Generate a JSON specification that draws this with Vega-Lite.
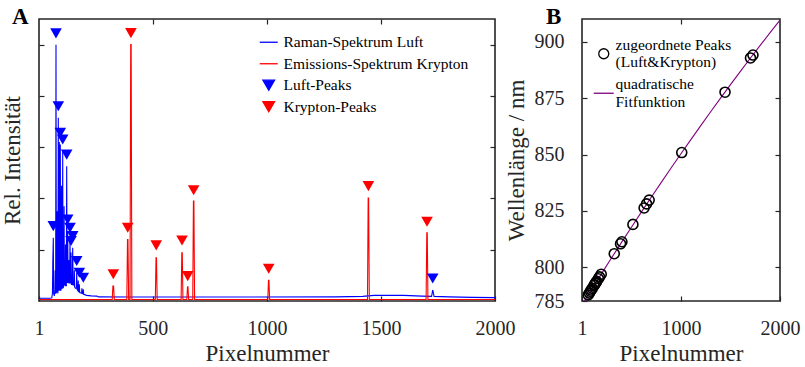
{
  "$schema": "https://vega.github.io/schema/vega-lite/v6.json",
  "background": "white",
  "padding": {"left": 0, "top": 5, "right": 5, "bottom": 0},
  "bounds": "flush",
  "spacing": 87,
  "resolve": {
    "scale": {"x": "independent", "y": "independent", "color": "independent", "shape": "independent"},
    "legend": {"color": "independent", "shape": "independent"}
  },
  "config": {
    "font": "Liberation Serif",
    "view": {"stroke": "#262626", "strokeWidth": 1.6},
    "axis": {
      "domain": false, "grid": false, "ticks": true, "tickSize": -5, "tickWidth": 1.2, "tickColor": "#262626",
      "labelFont": "Liberation Serif", "labelFontSize": 20, "labelColor": "#262626", "labelFlush": false, "labelOverlap": false,
      "titleFont": "Liberation Serif", "titleFontSize": 23, "titleFontWeight": "normal", "titleColor": "#262626"
    },
    "legend": {
      "labelFont": "Liberation Serif", "labelFontSize": 15.5, "labelColor": "black", "labelLimit": 0, "padding": 0, "offset": 0, "symbolStrokeWidth": 1.3
    }
  },
  "datasets": {
    "specA": [
      {"series": "Raman-Spektrum Luft", "x": 1, "y": 0.0105},
      {"series": "Raman-Spektrum Luft", "x": 50, "y": 0.0105},
      {"series": "Raman-Spektrum Luft", "x": 57, "y": 0.012},
      {"series": "Raman-Spektrum Luft", "x": 60, "y": 0.03},
      {"series": "Raman-Spektrum Luft", "x": 61.5, "y": 0.15},
      {"series": "Raman-Spektrum Luft", "x": 63.7, "y": 0.247},
      {"series": "Raman-Spektrum Luft", "x": 65.3, "y": 0.03},
      {"series": "Raman-Spektrum Luft", "x": 68, "y": 0.02},
      {"series": "Raman-Spektrum Luft", "x": 71, "y": 0.04},
      {"series": "Raman-Spektrum Luft", "x": 72, "y": 0.12},
      {"series": "Raman-Spektrum Luft", "x": 73, "y": 0.03},
      {"series": "Raman-Spektrum Luft", "x": 74, "y": 0.03},
      {"series": "Raman-Spektrum Luft", "x": 75.5, "y": 1.0},
      {"series": "Raman-Spektrum Luft", "x": 77, "y": 0.03},
      {"series": "Raman-Spektrum Luft", "x": 79, "y": 0.06},
      {"series": "Raman-Spektrum Luft", "x": 80, "y": 0.35},
      {"series": "Raman-Spektrum Luft", "x": 81, "y": 0.04},
      {"series": "Raman-Spektrum Luft", "x": 84, "y": 0.03},
      {"series": "Raman-Spektrum Luft", "x": 85.6, "y": 0.715},
      {"series": "Raman-Spektrum Luft", "x": 87, "y": 0.04},
      {"series": "Raman-Spektrum Luft", "x": 89, "y": 0.05},
      {"series": "Raman-Spektrum Luft", "x": 90, "y": 0.62},
      {"series": "Raman-Spektrum Luft", "x": 91, "y": 0.05},
      {"series": "Raman-Spektrum Luft", "x": 93, "y": 0.04},
      {"series": "Raman-Spektrum Luft", "x": 94.4, "y": 0.61},
      {"series": "Raman-Spektrum Luft", "x": 96, "y": 0.04},
      {"series": "Raman-Spektrum Luft", "x": 99, "y": 0.05},
      {"series": "Raman-Spektrum Luft", "x": 100, "y": 0.45},
      {"series": "Raman-Spektrum Luft", "x": 101, "y": 0.05},
      {"series": "Raman-Spektrum Luft", "x": 103.5, "y": 0.05},
      {"series": "Raman-Spektrum Luft", "x": 104.9, "y": 0.585},
      {"series": "Raman-Spektrum Luft", "x": 106.5, "y": 0.05},
      {"series": "Raman-Spektrum Luft", "x": 110, "y": 0.06},
      {"series": "Raman-Spektrum Luft", "x": 111, "y": 0.37},
      {"series": "Raman-Spektrum Luft", "x": 112, "y": 0.07},
      {"series": "Raman-Spektrum Luft", "x": 116, "y": 0.06},
      {"series": "Raman-Spektrum Luft", "x": 117, "y": 0.22},
      {"series": "Raman-Spektrum Luft", "x": 118, "y": 0.06},
      {"series": "Raman-Spektrum Luft", "x": 121, "y": 0.06},
      {"series": "Raman-Spektrum Luft", "x": 122.4, "y": 0.526},
      {"series": "Raman-Spektrum Luft", "x": 124, "y": 0.07},
      {"series": "Raman-Spektrum Luft", "x": 126.8, "y": 0.273},
      {"series": "Raman-Spektrum Luft", "x": 128.5, "y": 0.07},
      {"series": "Raman-Spektrum Luft", "x": 131, "y": 0.08},
      {"series": "Raman-Spektrum Luft", "x": 132, "y": 0.16},
      {"series": "Raman-Spektrum Luft", "x": 133, "y": 0.07},
      {"series": "Raman-Spektrum Luft", "x": 135.5, "y": 0.07},
      {"series": "Raman-Spektrum Luft", "x": 136.9, "y": 0.241},
      {"series": "Raman-Spektrum Luft", "x": 138.5, "y": 0.07},
      {"series": "Raman-Spektrum Luft", "x": 140, "y": 0.07},
      {"series": "Raman-Spektrum Luft", "x": 141.3, "y": 0.189},
      {"series": "Raman-Spektrum Luft", "x": 143, "y": 0.065},
      {"series": "Raman-Spektrum Luft", "x": 147, "y": 0.065},
      {"series": "Raman-Spektrum Luft", "x": 148.7, "y": 0.208},
      {"series": "Raman-Spektrum Luft", "x": 150.5, "y": 0.06},
      {"series": "Raman-Spektrum Luft", "x": 155, "y": 0.07},
      {"series": "Raman-Spektrum Luft", "x": 156, "y": 0.12},
      {"series": "Raman-Spektrum Luft", "x": 157, "y": 0.055},
      {"series": "Raman-Spektrum Luft", "x": 160, "y": 0.05},
      {"series": "Raman-Spektrum Luft", "x": 164.5, "y": 0.05},
      {"series": "Raman-Spektrum Luft", "x": 166.3, "y": 0.111},
      {"series": "Raman-Spektrum Luft", "x": 168, "y": 0.045},
      {"series": "Raman-Spektrum Luft", "x": 172, "y": 0.04},
      {"series": "Raman-Spektrum Luft", "x": 173, "y": 0.08},
      {"series": "Raman-Spektrum Luft", "x": 174, "y": 0.04},
      {"series": "Raman-Spektrum Luft", "x": 176, "y": 0.035},
      {"series": "Raman-Spektrum Luft", "x": 177.7, "y": 0.065},
      {"series": "Raman-Spektrum Luft", "x": 179.5, "y": 0.033},
      {"series": "Raman-Spektrum Luft", "x": 188, "y": 0.03},
      {"series": "Raman-Spektrum Luft", "x": 189, "y": 0.05},
      {"series": "Raman-Spektrum Luft", "x": 190, "y": 0.03},
      {"series": "Raman-Spektrum Luft", "x": 193.5, "y": 0.028},
      {"series": "Raman-Spektrum Luft", "x": 195.2, "y": 0.046},
      {"series": "Raman-Spektrum Luft", "x": 197, "y": 0.026},
      {"series": "Raman-Spektrum Luft", "x": 210, "y": 0.022},
      {"series": "Raman-Spektrum Luft", "x": 230, "y": 0.02},
      {"series": "Raman-Spektrum Luft", "x": 255, "y": 0.019},
      {"series": "Raman-Spektrum Luft", "x": 262, "y": 0.016},
      {"series": "Raman-Spektrum Luft", "x": 400, "y": 0.0155},
      {"series": "Raman-Spektrum Luft", "x": 800, "y": 0.0155},
      {"series": "Raman-Spektrum Luft", "x": 1300, "y": 0.016},
      {"series": "Raman-Spektrum Luft", "x": 1420, "y": 0.018},
      {"series": "Raman-Spektrum Luft", "x": 1470, "y": 0.022},
      {"series": "Raman-Spektrum Luft", "x": 1600, "y": 0.022},
      {"series": "Raman-Spektrum Luft", "x": 1680, "y": 0.019},
      {"series": "Raman-Spektrum Luft", "x": 1722, "y": 0.018},
      {"series": "Raman-Spektrum Luft", "x": 1727, "y": 0.043},
      {"series": "Raman-Spektrum Luft", "x": 1733, "y": 0.018},
      {"series": "Raman-Spektrum Luft", "x": 1800, "y": 0.016},
      {"series": "Raman-Spektrum Luft", "x": 1900, "y": 0.014},
      {"series": "Raman-Spektrum Luft", "x": 2000, "y": 0.013},
      {"series": "Emissions-Spektrum Krypton", "x": 1, "y": 0.006},
      {"series": "Emissions-Spektrum Krypton", "x": 322, "y": 0.006},
      {"series": "Emissions-Spektrum Krypton", "x": 325, "y": 0.058},
      {"series": "Emissions-Spektrum Krypton", "x": 328, "y": 0.058},
      {"series": "Emissions-Spektrum Krypton", "x": 331, "y": 0.006},
      {"series": "Emissions-Spektrum Krypton", "x": 386, "y": 0.006},
      {"series": "Emissions-Spektrum Krypton", "x": 389, "y": 0.24},
      {"series": "Emissions-Spektrum Krypton", "x": 391, "y": 0.24},
      {"series": "Emissions-Spektrum Krypton", "x": 394, "y": 0.006},
      {"series": "Emissions-Spektrum Krypton", "x": 400, "y": 0.006},
      {"series": "Emissions-Spektrum Krypton", "x": 403, "y": 1.0},
      {"series": "Emissions-Spektrum Krypton", "x": 405, "y": 1.0},
      {"series": "Emissions-Spektrum Krypton", "x": 408, "y": 0.006},
      {"series": "Emissions-Spektrum Krypton", "x": 511, "y": 0.006},
      {"series": "Emissions-Spektrum Krypton", "x": 514, "y": 0.169},
      {"series": "Emissions-Spektrum Krypton", "x": 516, "y": 0.169},
      {"series": "Emissions-Spektrum Krypton", "x": 519, "y": 0.006},
      {"series": "Emissions-Spektrum Krypton", "x": 624, "y": 0.006},
      {"series": "Emissions-Spektrum Krypton", "x": 627, "y": 0.188},
      {"series": "Emissions-Spektrum Krypton", "x": 629, "y": 0.188},
      {"series": "Emissions-Spektrum Krypton", "x": 632, "y": 0.006},
      {"series": "Emissions-Spektrum Krypton", "x": 649, "y": 0.006},
      {"series": "Emissions-Spektrum Krypton", "x": 652, "y": 0.055},
      {"series": "Emissions-Spektrum Krypton", "x": 654, "y": 0.055},
      {"series": "Emissions-Spektrum Krypton", "x": 657, "y": 0.006},
      {"series": "Emissions-Spektrum Krypton", "x": 675, "y": 0.006},
      {"series": "Emissions-Spektrum Krypton", "x": 678, "y": 0.39},
      {"series": "Emissions-Spektrum Krypton", "x": 680, "y": 0.39},
      {"series": "Emissions-Spektrum Krypton", "x": 683, "y": 0.006},
      {"series": "Emissions-Spektrum Krypton", "x": 1004, "y": 0.006},
      {"series": "Emissions-Spektrum Krypton", "x": 1007, "y": 0.081},
      {"series": "Emissions-Spektrum Krypton", "x": 1009, "y": 0.081},
      {"series": "Emissions-Spektrum Krypton", "x": 1012, "y": 0.006},
      {"series": "Emissions-Spektrum Krypton", "x": 1441, "y": 0.006},
      {"series": "Emissions-Spektrum Krypton", "x": 1444, "y": 0.402},
      {"series": "Emissions-Spektrum Krypton", "x": 1446, "y": 0.402},
      {"series": "Emissions-Spektrum Krypton", "x": 1449, "y": 0.006},
      {"series": "Emissions-Spektrum Krypton", "x": 1698, "y": 0.006},
      {"series": "Emissions-Spektrum Krypton", "x": 1701, "y": 0.266},
      {"series": "Emissions-Spektrum Krypton", "x": 1703, "y": 0.266},
      {"series": "Emissions-Spektrum Krypton", "x": 1706, "y": 0.006},
      {"series": "Emissions-Spektrum Krypton", "x": 2000, "y": 0.006}
    ],
    "peaksA": [
      {"series": "Luft-Peaks", "x": 63.7, "y": 0.292},
      {"series": "Luft-Peaks", "x": 75.5, "y": 1.044},
      {"series": "Luft-Peaks", "x": 85.6, "y": 0.76},
      {"series": "Luft-Peaks", "x": 94.4, "y": 0.656},
      {"series": "Luft-Peaks", "x": 104.9, "y": 0.63},
      {"series": "Luft-Peaks", "x": 122.4, "y": 0.571},
      {"series": "Luft-Peaks", "x": 126.8, "y": 0.318},
      {"series": "Luft-Peaks", "x": 136.9, "y": 0.286},
      {"series": "Luft-Peaks", "x": 141.3, "y": 0.234},
      {"series": "Luft-Peaks", "x": 148.7, "y": 0.253},
      {"series": "Luft-Peaks", "x": 166.3, "y": 0.156},
      {"series": "Luft-Peaks", "x": 177.7, "y": 0.11},
      {"series": "Luft-Peaks", "x": 195.2, "y": 0.091},
      {"series": "Luft-Peaks", "x": 1727, "y": 0.088},
      {"series": "Krypton-Peaks", "x": 326.7, "y": 0.104},
      {"series": "Krypton-Peaks", "x": 390, "y": 0.286},
      {"series": "Krypton-Peaks", "x": 404, "y": 1.045},
      {"series": "Krypton-Peaks", "x": 515, "y": 0.217},
      {"series": "Krypton-Peaks", "x": 628, "y": 0.236},
      {"series": "Krypton-Peaks", "x": 653, "y": 0.097},
      {"series": "Krypton-Peaks", "x": 679, "y": 0.432},
      {"series": "Krypton-Peaks", "x": 1008, "y": 0.126},
      {"series": "Krypton-Peaks", "x": 1445, "y": 0.448},
      {"series": "Krypton-Peaks", "x": 1702, "y": 0.309}
    ],
    "ptsB": [
      {"series": "zugeordnete Peaks|(Luft&Krypton)", "x": 63.7, "y": 787.7},
      {"series": "zugeordnete Peaks|(Luft&Krypton)", "x": 75.5, "y": 788.5},
      {"series": "zugeordnete Peaks|(Luft&Krypton)", "x": 85.6, "y": 789.3},
      {"series": "zugeordnete Peaks|(Luft&Krypton)", "x": 94.4, "y": 789.9},
      {"series": "zugeordnete Peaks|(Luft&Krypton)", "x": 104.9, "y": 790.6},
      {"series": "zugeordnete Peaks|(Luft&Krypton)", "x": 122.4, "y": 791.9},
      {"series": "zugeordnete Peaks|(Luft&Krypton)", "x": 126.8, "y": 792.2},
      {"series": "zugeordnete Peaks|(Luft&Krypton)", "x": 136.9, "y": 792.9},
      {"series": "zugeordnete Peaks|(Luft&Krypton)", "x": 141.3, "y": 793.2},
      {"series": "zugeordnete Peaks|(Luft&Krypton)", "x": 148.7, "y": 793.7},
      {"series": "zugeordnete Peaks|(Luft&Krypton)", "x": 166.3, "y": 794.9},
      {"series": "zugeordnete Peaks|(Luft&Krypton)", "x": 177.7, "y": 795.7},
      {"series": "zugeordnete Peaks|(Luft&Krypton)", "x": 195.2, "y": 796.9},
      {"series": "zugeordnete Peaks|(Luft&Krypton)", "x": 1727, "y": 894.2},
      {"series": "zugeordnete Peaks|(Luft&Krypton)", "x": 326.7, "y": 806.0},
      {"series": "zugeordnete Peaks|(Luft&Krypton)", "x": 390, "y": 810.4},
      {"series": "zugeordnete Peaks|(Luft&Krypton)", "x": 404, "y": 811.3},
      {"series": "zugeordnete Peaks|(Luft&Krypton)", "x": 515, "y": 819.0},
      {"series": "zugeordnete Peaks|(Luft&Krypton)", "x": 628, "y": 826.3},
      {"series": "zugeordnete Peaks|(Luft&Krypton)", "x": 653, "y": 828.1},
      {"series": "zugeordnete Peaks|(Luft&Krypton)", "x": 679, "y": 829.8},
      {"series": "zugeordnete Peaks|(Luft&Krypton)", "x": 1008, "y": 850.9},
      {"series": "zugeordnete Peaks|(Luft&Krypton)", "x": 1445, "y": 877.7},
      {"series": "zugeordnete Peaks|(Luft&Krypton)", "x": 1702, "y": 892.9}
    ],
    "fitB": [
      {"series": "quadratische|Fitfunktion", "x": 1, "y": 783.28},
      {"series": "quadratische|Fitfunktion", "x": 100, "y": 790.28},
      {"series": "quadratische|Fitfunktion", "x": 200, "y": 797.27},
      {"series": "quadratische|Fitfunktion", "x": 300, "y": 804.18},
      {"series": "quadratische|Fitfunktion", "x": 400, "y": 811.02},
      {"series": "quadratische|Fitfunktion", "x": 500, "y": 817.77},
      {"series": "quadratische|Fitfunktion", "x": 600, "y": 824.45},
      {"series": "quadratische|Fitfunktion", "x": 700, "y": 831.05},
      {"series": "quadratische|Fitfunktion", "x": 800, "y": 837.57},
      {"series": "quadratische|Fitfunktion", "x": 900, "y": 844.02},
      {"series": "quadratische|Fitfunktion", "x": 1000, "y": 850.38},
      {"series": "quadratische|Fitfunktion", "x": 1100, "y": 856.67},
      {"series": "quadratische|Fitfunktion", "x": 1200, "y": 862.88},
      {"series": "quadratische|Fitfunktion", "x": 1300, "y": 869.01},
      {"series": "quadratische|Fitfunktion", "x": 1400, "y": 875.07},
      {"series": "quadratische|Fitfunktion", "x": 1500, "y": 881.04},
      {"series": "quadratische|Fitfunktion", "x": 1600, "y": 886.94},
      {"series": "quadratische|Fitfunktion", "x": 1700, "y": 892.76},
      {"series": "quadratische|Fitfunktion", "x": 1800, "y": 898.5},
      {"series": "quadratische|Fitfunktion", "x": 1900, "y": 904.16},
      {"series": "quadratische|Fitfunktion", "x": 2000, "y": 909.75}
    ]
  },
  "hconcat": [
    {
      "width": 456,
      "height": 282,
      "title": {"text": "A", "anchor": "start", "frame": "group", "font": "Liberation Serif", "fontSize": 23, "fontWeight": "bold", "color": "black", "dx": -27, "dy": 28.5, "offset": 0, "baseline": "alphabetic"},
      "layer": [
        {
          "layer": [
            {
              "data": {"name": "specA"},
              "mark": {"type": "line", "strokeWidth": 1.1, "clip": true},
              "encoding": {
                "x": {"field": "x", "type": "quantitative", "scale": {"domain": [1, 2000], "nice": false, "zero": false},
                      "axis": {"values": [1, 500, 1000, 1500, 2000], "format": "d", "labelPadding": 22, "title": "Pixelnummer", "titlePadding": 4}},
                "y": {"field": "y", "type": "quantitative", "scale": {"domain": [0, 1.1], "nice": false, "zero": false},
                      "axis": {"values": [0.2, 0.4, 0.6, 0.8, 1.0], "labels": false, "title": "Rel. Intensität", "titlePadding": 14}},
                "color": {"field": "series", "type": "nominal",
                  "scale": {"domain": ["Raman-Spektrum Luft", "Emissions-Spektrum Krypton", "Luft-Peaks", "Krypton-Peaks"], "range": ["#0000ff", "#ff0000", "#0000ff", "#ff0000"]},
                  "legend": {"title": null, "orient": "none", "legendX": 222, "legendY": 15.5, "symbolSize": 135, "labelOffset": 7, "rowPadding": 4.5}
                }
              }
            },
            {
              "data": {"name": "peaksA"},
              "mark": {"type": "point", "filled": true, "size": 135, "opacity": 1},
              "encoding": {
                "x": {"field": "x", "type": "quantitative"},
                "y": {"field": "y", "type": "quantitative"},
                "color": {"field": "series", "type": "nominal"},
                "shape": {"field": "series", "type": "nominal",
                  "scale": {"domain": ["Raman-Spektrum Luft", "Emissions-Spektrum Krypton", "Luft-Peaks", "Krypton-Peaks"], "range": ["M-1.55,0H1.55", "M-1.55,0H1.55", "triangle-down", "triangle-down"]},
                  "legend": {"title": null, "orient": "none", "legendX": 222, "legendY": 15.5, "symbolSize": 135, "labelOffset": 7, "rowPadding": 4.5}}
              }
            }
          ]
        },
        {
          "data": {"name": "peaksA"},
          "mark": {"type": "point", "opacity": 0},
          "encoding": {
            "x": {"field": "x", "type": "quantitative", "axis": {"orient": "top", "values": [500, 1000, 1500], "labels": false, "title": null}},
            "y": {"field": "y", "type": "quantitative", "axis": {"orient": "right", "values": [0.2, 0.4, 0.6, 0.8, 1.0], "labels": false, "title": null}}
          }
        }
      ],
      "resolve": {"axis": {"x": "independent", "y": "independent"}}
    },
    {
      "width": 198,
      "height": 282,
      "title": {"text": "B", "anchor": "start", "frame": "group", "font": "Liberation Serif", "fontSize": 23, "fontWeight": "bold", "color": "black", "dx": -36, "dy": 28.5, "offset": 0, "baseline": "alphabetic"},
      "layer": [
        {
          "layer": [
            {
              "data": {"name": "fitB"},
              "mark": {"type": "line", "strokeWidth": 1.1, "clip": true},
              "encoding": {
                "x": {"field": "x", "type": "quantitative", "scale": {"domain": [1, 2000], "nice": false, "zero": false},
                      "axis": {"values": [1, 1000, 2000], "format": "d", "labelPadding": 22, "title": "Pixelnummer", "titlePadding": 4}},
                "y": {"field": "y", "type": "quantitative", "scale": {"domain": [785, 910.2], "nice": false, "zero": false},
                      "axis": {"values": [785, 800, 825, 850, 875, 900], "format": "d", "labelPadding": 23, "title": "Wellenlänge / nm", "titlePadding": 6}},
                "color": {"field": "series", "type": "nominal",
                  "scale": {"domain": ["zugeordnete Peaks|(Luft&Krypton)", "quadratische|Fitfunktion"], "range": ["black", "#800080"]},
                  "legend": {"title": null, "orient": "none", "legendX": 14, "legendY": 27, "symbolSize": 100, "labelOffset": 4, "rowPadding": 5.5,
                    "labelBaseline": "line-bottom", "labelExpr": "split(datum.label, '|')"}
                }
              }
            },
            {
              "data": {"name": "ptsB"},
              "mark": {"type": "point", "filled": false, "size": 100, "strokeWidth": 1.6, "opacity": 1},
              "encoding": {
                "x": {"field": "x", "type": "quantitative"},
                "y": {"field": "y", "type": "quantitative"},
                "color": {"field": "series", "type": "nominal"},
                "shape": {"field": "series", "type": "nominal",
                  "scale": {"domain": ["zugeordnete Peaks|(Luft&Krypton)", "quadratische|Fitfunktion"], "range": ["circle", "M-2,0H2"]},
                  "legend": {"title": null, "orient": "none", "legendX": 14, "legendY": 27, "symbolSize": 100, "labelOffset": 4, "rowPadding": 5.5,
                    "labelBaseline": "line-bottom", "labelExpr": "split(datum.label, '|')"}}
              }
            }
          ]
        },
        {
          "data": {"name": "ptsB"},
          "mark": {"type": "point", "opacity": 0},
          "encoding": {
            "x": {"field": "x", "type": "quantitative", "axis": {"orient": "top", "values": [1000], "labels": false, "title": null}},
            "y": {"field": "y", "type": "quantitative", "axis": {"orient": "right", "values": [800, 825, 850, 875, 900], "labels": false, "title": null}}
          }
        }
      ],
      "resolve": {"axis": {"x": "independent", "y": "independent"}}
    }
  ]
}
